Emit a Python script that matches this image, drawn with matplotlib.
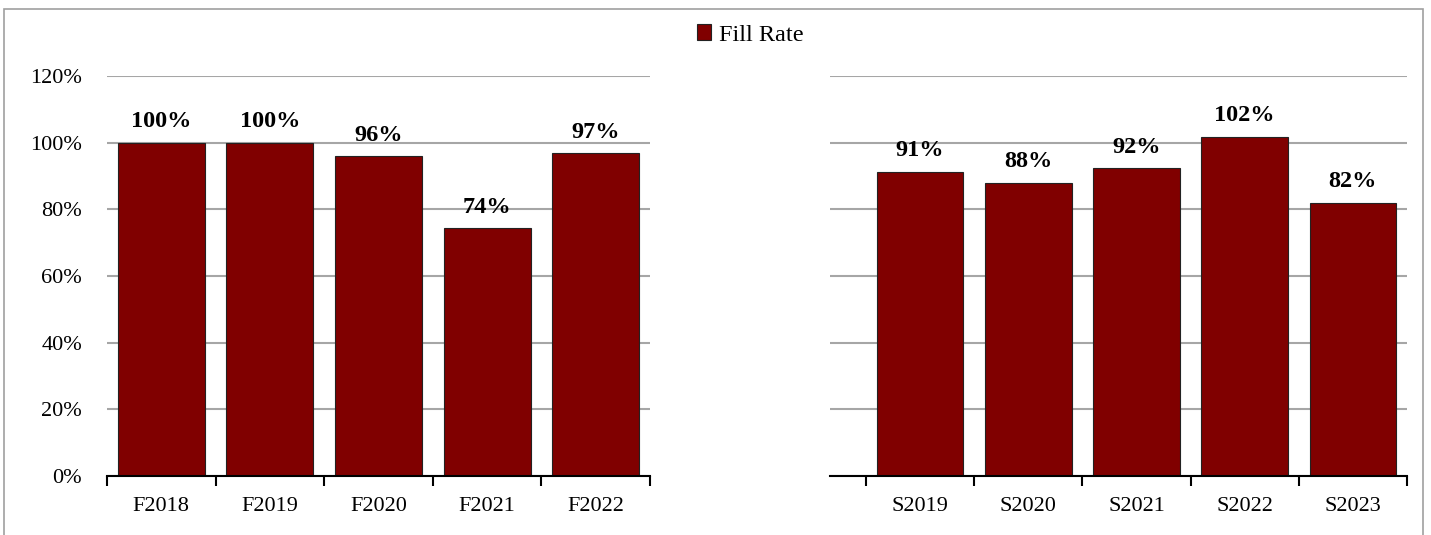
import matplotlib.pyplot as plt
import matplotlib.patches as mpatches
import numpy as np
from matplotlib.ticker import FixedLocator

plt.rcParams['font.family'] = ['Liberation Serif', 'DejaVu Serif']

# data
fall_labels = ['F2018', 'F2019', 'F2020', 'F2021', 'F2022']
fall_rate = [1.00, 1.00, 0.96, 0.744, 0.968]
spring_labels = ['S2019', 'S2020', 'S2021', 'S2022', 'S2023']
spring_rate = [0.913, 0.88, 0.924, 1.018, 0.82]
y_ticks = [0, 0.2, 0.4, 0.6, 0.8, 1.0, 1.2]

bar_color = '#800000'
grid_color = '#A6A6A6'
W, H = 1431, 535

fig = plt.figure(figsize=(W / 100, H / 100), dpi=100)

# outer chart border
fig.patches.append(mpatches.Rectangle((4 / W, -0.02), (1423 - 4) / W, (535 - 9) / H + 0.02,
                                      transform=fig.transFigure, fill=False,
                                      edgecolor='#A0A0A0', linewidth=1.2))

ax1 = fig.add_axes([107 / W, (H - 476) / H, (650 - 107) / W, 400 / H])
ax2 = fig.add_axes([830 / W, (H - 476) / H, (1407 - 830) / W, 400 / H])


def draw(ax, labels, values, xmin, show_y):
    x = np.arange(len(labels))
    ax.bar(x, values, width=0.8, color=bar_color, edgecolor='#222222', linewidth=0.8, zorder=3)
    for xi, v in zip(x, values):
        ax.annotate(f'{v * 100:.0f}%', (xi, v), xytext=(0, 11), textcoords='offset points',
                    ha='center', va='baseline', fontsize=17.5, fontweight='bold', zorder=4)
    ax.set_ylim(0, 1.2)
    ax.set_xlim(xmin, len(labels) - 0.5)
    ax.set_yticks(y_ticks)
    ax.yaxis.grid(True, color=grid_color, linewidth=1.5, zorder=0)
    ax.set_xticks(x)
    ax.set_xticklabels(labels, fontsize=16)
    ax.xaxis.set_minor_locator(FixedLocator(np.arange(len(labels) + 1) - 0.5))
    ax.tick_params(axis='x', which='major', length=0, pad=15)
    ax.tick_params(axis='x', which='minor', length=7, width=1.5, direction='out')
    if show_y:
        ax.set_yticklabels([f'{t * 100:.0f}%' for t in y_ticks], fontsize=16)
        ax.tick_params(axis='y', length=0, pad=18)
    else:
        ax.tick_params(axis='y', length=0, labelleft=False)
    for s in ['top', 'right', 'left']:
        ax.spines[s].set_visible(False)
    ax.spines['bottom'].set_linewidth(1.5)
    ax.spines['bottom'].set_zorder(5)


draw(ax1, fall_labels, fall_rate, -0.5, True)
draw(ax2, spring_labels, spring_rate, -0.5 - 36 / 108.2, False)

# legend
handle = mpatches.Patch(facecolor=bar_color, edgecolor='#222222', linewidth=0.8, label='Fill Rate')
fig.legend(handles=[handle], loc='center', bbox_to_anchor=(750 / W, (H - 35) / H),
           frameon=False, fontsize=17.5, handlelength=0.6, handleheight=0.6,
           handletextpad=0.3)

fig.savefig('out.png', dpi=100)
